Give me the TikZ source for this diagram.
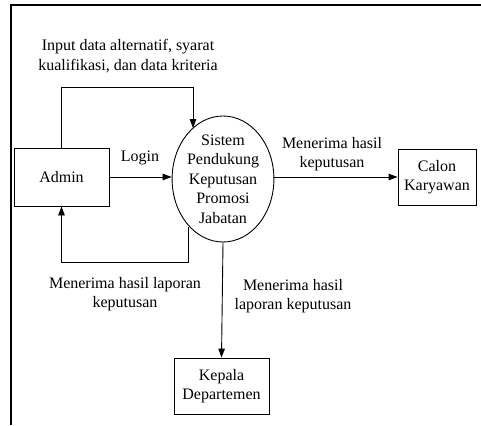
\documentclass[tikz,border=0pt]{standalone}
\usepackage{fontspec}
\setmainfont{Liberation Serif}
\usetikzlibrary{shapes.geometric, arrows.meta}

\tikzset{
    entity/.style={draw, rectangle, align=center, inner sep=0pt},
    process/.style={draw, ellipse, align=center, inner sep=0pt, minimum width=100pt, minimum height=126pt},
    flow/.style={-{Triangle[length=9pt,width=6.5pt]}},
    txt/.style={align=center, inner sep=0pt}
}

\begin{document}
\begin{tikzpicture}[x=1pt, y=-1pt, line width=0.9pt, font=\fontsize{16}{19.5}\selectfont]
        \useasboundingbox (0,0) rectangle (481,425);
        % frame
        \draw[line width=2.4pt] (11,425) -- (11,5) -- (481,5);
        % entities and process
        \node[entity, minimum width=95pt, minimum height=58pt] (admin) at (61.5,177) {Admin};
        \node[process] (sistem) at (223,179) {Sistem\\Pendukung\\Keputusan\\Promosi\\Jabatan};
        \node[entity, minimum width=78pt, minimum height=56pt] (calon) at (437,177) {Calon\\Karyawan};
        \node[entity, minimum width=95pt, minimum height=56pt] (kepala) at (221.5,386) {Kepala\\Departemen};
        % flows
        \coordinate (inTop) at (193,87);
        \coordinate (botLoop) at (188,262);
        \draw[flow] (admin.east) -- (admin.east -| sistem.west);
        \draw[flow] (admin.north) |- (inTop) -- (inTop |- sistem.121);
        \draw[flow] (botLoop |- sistem.235) -- (botLoop) -| (admin.south);
        \draw[flow] (sistem.east |- calon.west) -- (calon.west);
        \draw[flow] (sistem.south) -- (kepala.north);
        % labels
        \node[txt] (lblLogin) at (140,158) {Login};
        \node[txt] (lblInput) at (128,56) {Input data alternatif, syarat\\kualifikasi, dan data kriteria};
        \node[txt] (lblAdmin) at (125,294) {Menerima hasil laporan\\keputusan};
        \node[txt] (lblCalon) at (332,154) {Menerima hasil\\keputusan};
        \node[txt] (lblKepala) at (293,296) {Menerima hasil\\laporan keputusan};
    \end{tikzpicture}
\end{document}
